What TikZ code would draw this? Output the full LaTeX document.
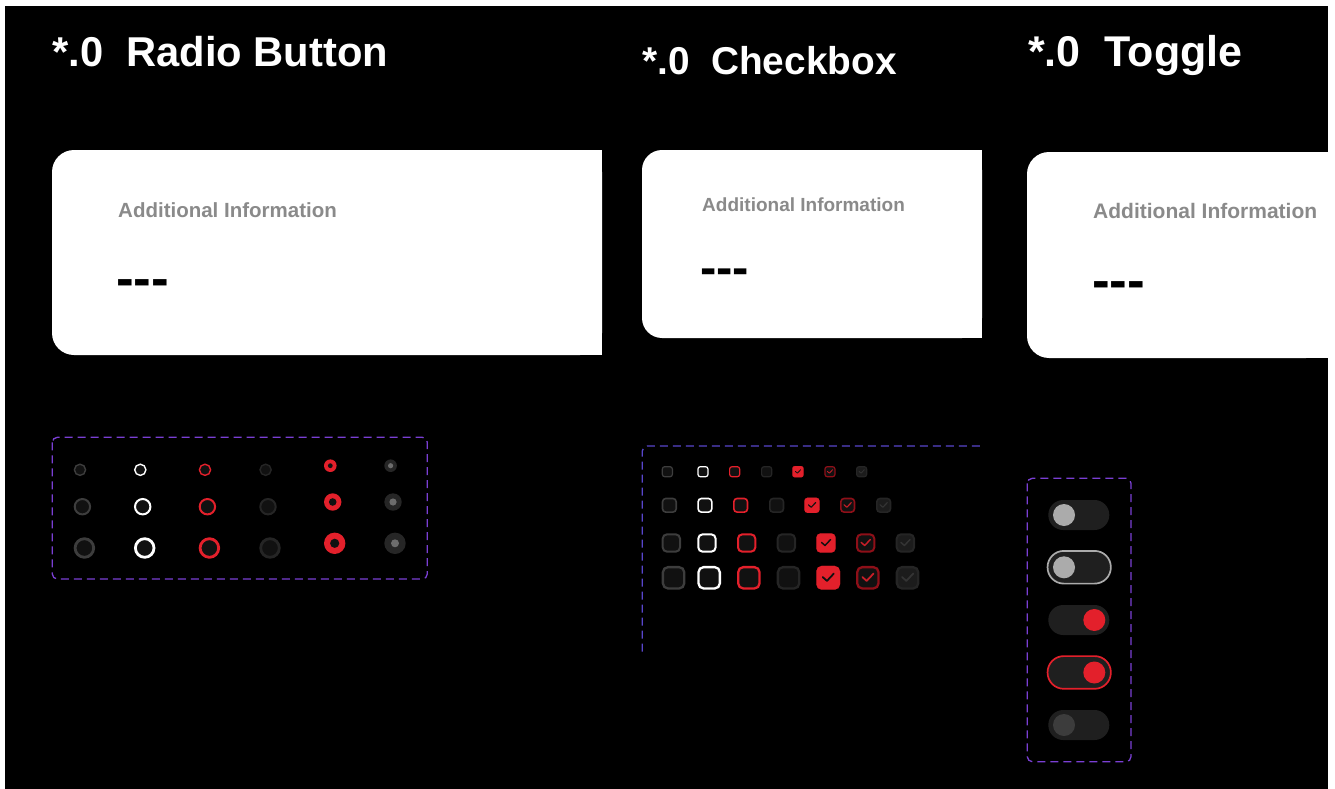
\documentclass[tikz,border=0pt]{standalone}
\usepackage{fontspec}
\setmainfont{Liberation Sans}
\definecolor{redA}{HTML}{E3202B}
\definecolor{redDark}{HTML}{8E0F18}
\definecolor{redCheck}{HTML}{C81E28}
\definecolor{greyStroke}{HTML}{3D3D3D}
\definecolor{darkStroke}{HTML}{252525}
\definecolor{boxFill}{HTML}{111111}
\definecolor{disFill}{HTML}{1C1C1C}
\definecolor{disCheck}{HTML}{343434}
\definecolor{discOuter}{HTML}{262626}
\definecolor{discDot}{HTML}{6C6C6C}
\definecolor{infoGrey}{HTML}{8A8A8A}
\definecolor{frameViolet}{HTML}{7A3FD4}
\definecolor{frameBlue}{HTML}{5846CC}
\definecolor{trackFill}{HTML}{1F1F1F}
\definecolor{knobLight}{HTML}{ABABAB}
\definecolor{knobDark}{HTML}{3C3C3C}
\newcommand\ckmark[4]{%
  \draw[#4,line width={0.075*#3},line cap=round,line join=round]
    ({#1+0.27*#3},{#2-0.03*#3}) -- ({#1+0.45*#3},{#2+0.13*#3}) -- ({#1+0.74*#3},{#2-0.18*#3});}
\newcommand\ckbox[6]{% left, ycenter, size, lw, draw, fill
  \draw[draw=#5,fill=#6,line width=#4pt,rounded corners={0.22*#3pt}]
    ({#1+#4/2},{#2-#3/2+#4/2}) rectangle ({#1+#3-#4/2},{#2+#3/2-#4/2});}
\begin{document}
\begin{tikzpicture}[x=1pt,y=-1pt,
  titletext/.style={text=white,inner sep=0pt,anchor=base west},
  infotext/.style={text=infoGrey,inner sep=0pt,anchor=base west},
  dashtext/.style={text=black,inner sep=0pt,anchor=west},
  cardbg/.style={fill=white},
  dframe/.style={dash pattern=on 8pt off 5pt,line width=1.3pt,rounded corners=5pt}]
\useasboundingbox (0,0) rectangle (1335,789);
\fill[white] (0,0) rectangle (1335,789);
\fill[black] (5,6) rectangle (1328,789);

% titles
\node[titletext,font=\bfseries\fontsize{41.7}{41.7}\selectfont] (t1) at (52,67) {*.0\ \ Radio Button};
\node[titletext,font=\bfseries\fontsize{38.8}{38.8}\selectfont] (t2) at (642,75) {*.0\ \ Checkbox};
\node[titletext,font=\bfseries\fontsize{43}{43}\selectfont] (t3) at (1028,67) {*.0\ \ Toggle};

% cards
\fill[cardbg,rounded corners=22pt] (52,150) rectangle (602,355);
\fill[cardbg] (570,150) rectangle (602,355);
\fill[cardbg,rounded corners=20pt] (642,150) rectangle (982,338);
\fill[cardbg] (950,150) rectangle (982,338);
\fill[cardbg,rounded corners=22pt] (1027,152) rectangle (1328,358);
\fill[cardbg] (1290,152) rectangle (1328,358);

\node[infotext,font=\bfseries\fontsize{20.5}{20.5}\selectfont] (i1) at (118,217) {Additional Information};
\node[dashtext,font=\bfseries\fontsize{53}{53}\selectfont] (d1) at (116,288) {\mbox{-}\mbox{-}\mbox{-}};
\node[infotext,font=\bfseries\fontsize{19}{19}\selectfont] (i2) at (702,211) {Additional Information};
\node[dashtext,font=\bfseries\fontsize{49}{49}\selectfont] (d2) at (700,277) {\mbox{-}\mbox{-}\mbox{-}};
\node[infotext,font=\bfseries\fontsize{21}{21}\selectfont] (i3) at (1093,218) {Additional Information};
\node[dashtext,font=\bfseries\fontsize{53}{53}\selectfont] (d3) at (1092,290) {\mbox{-}\mbox{-}\mbox{-}};

% ---------- radio buttons ----------
\draw[dframe,draw=frameViolet] (52.3,437.3) rectangle (427.3,579);
\foreach \r/\y/\yb/\lw/\h/\d in {6.3/469.8/465.7/1.4/2.4/2.6, 8.7/506.7/502/2.0/3.8/3.6, 10.7/548/543.3/2.8/4.6/4.0}{
  \draw[draw=greyStroke,fill=boxFill,line width=\lw pt] ({73.7+\r},\y) circle ({\r-\lw/2});
  \draw[draw=white,fill=boxFill,line width=\lw pt] ({134+\r},\y) circle ({\r-\lw/2});
  \draw[draw=redA,fill=boxFill,line width=\lw pt] ({198.7+\r},\y) circle ({\r-\lw/2});
  \draw[draw=darkStroke,fill=boxFill,line width=\lw pt] ({259.3+\r},\y) circle ({\r-\lw/2});
  \fill[redA] ({324+\r},\yb) circle (\r);
  \fill[boxFill] ({324+\r},\yb) circle (\h);
  \fill[discOuter] ({384.3+\r},\yb) circle (\r);
  \fill[discDot] ({384.3+\r},\yb) circle (\d);
}

% ---------- checkboxes ----------
\draw[dframe,draw=frameBlue] (642.3,651.7) -- (642.3,446) -- (980,446);
\foreach \y/\s/\lw/\ca/\cb/\cc/\cd/\ce in {
  471.7/11.3/1.2/729/761/792.3/824.3/856,
  505.3/15.3/1.6/733/769/804.3/840/876,
  543/19.3/2.0/737/776.7/816.3/856/895.7,
  577.8/23.7/2.3/737/776.7/816.3/856/895.7}{
  \ckbox{661.7}{\y}{\s}{\lw}{greyStroke}{boxFill}
  \ckbox{697.3}{\y}{\s}{\lw}{white}{boxFill}
  \ckbox{\ca}{\y}{\s}{\lw}{redA}{boxFill}
  \ckbox{\cb}{\y}{\s}{\lw}{darkStroke}{boxFill}
  \ckbox{\cc}{\y}{\s}{0.01}{redA}{redA}
  \ckmark{\cc}{\y}{\s}{boxFill}
  \ckbox{\cd}{\y}{\s}{\lw}{redDark}{boxFill}
  \ckmark{\cd}{\y}{\s}{redCheck}
  \ckbox{\ce}{\y}{\s}{\lw}{darkStroke}{disFill}
  \ckmark{\ce}{\y}{\s}{disCheck}
}

% ---------- toggles ----------
\draw[dframe,draw=frameViolet] (1027.3,478.3) rectangle (1131,761.7);
\fill[trackFill,rounded corners=14.9pt] (1048.3,500) rectangle (1109.3,530);
\fill[knobLight] (1064,515) circle (11);
\draw[draw=knobLight,fill=trackFill,line width=1.7pt,rounded corners=16.2pt] (1047.55,550.9) rectangle (1110.85,583.6);
\fill[knobLight] (1064,567.3) circle (11);
\fill[trackFill,rounded corners=14.9pt] (1048.3,605) rectangle (1109.3,635);
\fill[redA] (1094.3,620) circle (11);
\draw[draw=redA,fill=trackFill,line width=1.7pt,rounded corners=16.2pt] (1047.55,656.1) rectangle (1110.85,688.8);
\fill[redA] (1094.3,672.5) circle (11);
\fill[trackFill,rounded corners=14.9pt] (1048.3,710) rectangle (1109.3,740);
\fill[knobDark] (1064,725) circle (11);
\end{tikzpicture}
\end{document}
